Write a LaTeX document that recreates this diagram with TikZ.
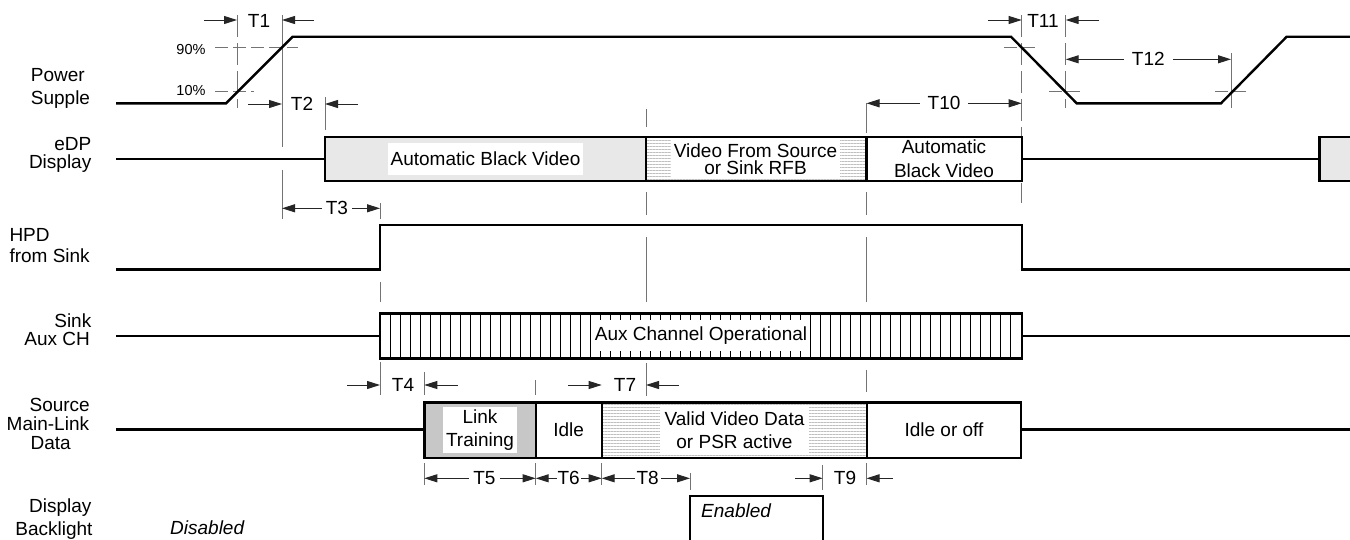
\documentclass[tikz,border=0pt]{standalone}
\usepackage{fontspec}
\setmainfont{Liberation Sans}
\usetikzlibrary{arrows.meta,patterns.meta}
\begin{document}
\begin{tikzpicture}[x=1pt,y=-1pt,
  sig/.style={line width=2.4pt, line join=miter, draw=black},
  guide/.style={line width=1pt, draw=black!55},
  gdash/.style={guide, dash pattern=on 22pt off 6pt},
  hdash/.style={guide, dash pattern=on 13pt off 5pt},
  tip/.tip={Triangle[length=13pt,width=8pt]},
  dim/.style={line width=1pt, draw=black!85, -tip},
  dimb/.style={line width=1pt, draw=black!85, tip-tip},
  lbl/.style={font=\fontsize{19}{20}\selectfont, inner sep=0pt},
  tlab/.style={font=\fontsize{19}{20}\selectfont, inner sep=4pt, fill=white},
  pct/.style={font=\fontsize{14.5}{16}\selectfont, inner sep=0pt, anchor=east},
  boxtxt/.style={align=center, fill=white, inner xsep=3pt, inner ysep=2pt},
  stip/.style={fill=black!9},
  stipdark/.style={fill=black!22},
  hlines/.style={pattern={Lines[angle=0,distance=3pt,line width=0.9pt]}, pattern color=black!25},
]
\useasboundingbox (0,0) rectangle (1350,539);

% ---------------- left labels ----------------
\node[lbl, anchor=base west] (lp1) at (30.7,81.7) {Power};
\node[lbl, anchor=base west] (lp2) at (30.7,104.3) {Supple};
\node[lbl, anchor=base east] (le1) at (91.5,150) {eDP};
\node[lbl, anchor=base east] (le2) at (91.5,168.3) {Display};
\node[lbl, anchor=base west] (lh1) at (9.3,241.7) {HPD};
\node[lbl, anchor=base west] (lh2) at (9.3,262.7) {from Sink};
\node[lbl, anchor=base east] (la1) at (91.5,327.3) {Sink};
\node[lbl, anchor=base east] (la2) at (90,345.7) {Aux CH};
\node[lbl, anchor=base east] (ls1) at (90,411.7) {Source};
\node[lbl, anchor=base east] (ls2) at (89.3,430.7) {Main-Link};
\node[lbl, anchor=base east] (ls3) at (71,449.3) {Data};
\node[lbl, anchor=base east] (lb1) at (91.7,512.3) {Display};
\node[lbl, anchor=base east] (lb2) at (92.7,535) {Backlight};

% ---------------- guide lines ----------------
\draw[gdash] (237,15) -- (237,108);
\draw[guide] (282,15) -- (282,147);
\draw[guide] (282,170) -- (282,219);
\draw[guide] (325,97) -- (325,130);
\draw[guide] (380,203) -- (380,219);
\draw[guide] (380,282) -- (380,302);
\draw[guide] (380,362) -- (380,395);
\draw[guide] (424.3,372) -- (424.3,395);
\draw[guide] (424.3,463) -- (424.3,485);
\draw[guide] (535.7,380) -- (535.7,395);
\draw[guide] (535.7,463) -- (535.7,485);
\draw[guide] (601.7,463) -- (601.7,485);
\foreach \a/\b in {109/127,192/215,237/302,363/396}
  \draw[guide] (646,\a) -- (646,\b);
\draw[guide] (690,473) -- (690,490);
\draw[guide] (822.7,465) -- (822.7,490);
\foreach \a/\b in {103/133,192/215,237/302,370/392,463/485}
  \draw[guide] (866.5,\a) -- (866.5,\b);
\draw[gdash] (1021.7,15) -- (1021.7,203);
\draw[gdash] (1065.7,15) -- (1065.7,108);
\draw[guide] (1231,53) -- (1231,108);

% 10% / 90% marks
\node[pct] (p90) at (205.7,50) {90\%};
\node[pct] (p10) at (205.7,91) {10\%};
\draw[hdash] (215,47.7) -- (298,47.7);
\draw[hdash] (215,91) -- (254,91);
\draw[hdash] (1004,47.7) -- (1038,47.7);
\draw[hdash] (1049,91) -- (1082,91);
\draw[hdash] (1215,91) -- (1248,91);

% ---------------- Power supply ----------------
\draw[sig] (116,103.3) -- (226,103.3) -- (292.7,36.7) -- (1011,36.7)
  -- (1076.7,103.3) -- (1221,103.3) -- (1286.7,36.7) -- (1355,36.7);

% ---------------- eDP display ----------------
\draw[sig] (116,159) -- (325,159);
\fill[stip] (325,136.7) rectangle (646,181);
\fill[hlines] (646,136.7) rectangle (866.5,181);
\node[boxtxt, font=\fontsize{19}{20}\selectfont, minimum height=32pt] (v1) at (485.5,159) {Automatic Black Video};
\node[boxtxt, font=\fontsize{19}{17.5}\selectfont, minimum height=40pt] (v2) at (755.5,159) {Video From Source\\or Sink RFB};
\node[lbl, align=center, font=\fontsize{19}{24}\selectfont] (v3) at (944,158.5) {Automatic\\Black Video};
\draw[sig] (325,136.7) rectangle (1022,181);
\draw[sig] (646,136.7) -- (646,181);
\draw[sig] (866.5,136.7) -- (866.5,181);
\draw[sig] (1022,159) -- (1319.3,159);
\fill[stip] (1319.3,136.7) rectangle (1356,181);
\draw[sig] (1356,136.7) -- (1319.3,136.7) -- (1319.3,181) -- (1356,181);

% ---------------- HPD ----------------
\draw[sig] (116,269.3) -- (380,269.3) -- (380,225) -- (1022,225) -- (1022,269.3) -- (1355,269.3);

% ---------------- Aux channel ----------------
\draw[sig] (116,335.7) -- (380,335.7);
\foreach \i in {1,...,63}
  \draw[line width=1pt] (380+10*\i,313.3) -- (380+10*\i,358.3);
\node[boxtxt, font=\fontsize{19}{20}\selectfont, inner xsep=1pt, minimum height=31pt] (aux) at (701,335.7) {Aux Channel Operational};
\draw[sig] (380,313.3) rectangle (1022,358.3);
\draw[sig] (1022,335.7) -- (1355,335.7);

% ---------------- Source main link ----------------
\draw[sig] (116,429.3) -- (424.3,429.3);
\fill[stipdark] (424.3,402.3) rectangle (535.7,457.7);
\fill[hlines] (601.7,402.3) rectangle (867,457.7);
\node[boxtxt, font=\fontsize{19}{22.7}\selectfont, minimum height=46pt] (m1) at (480,430) {Link\\Training};
\node[lbl] (m2) at (568.7,430) {Idle};
\node[boxtxt, font=\fontsize{19}{22.7}\selectfont, inner xsep=4.5pt, minimum height=46pt] (m3) at (734.5,430) {Valid Video Data\\or PSR active};
\node[lbl] (m4) at (944,430) {Idle or off};
\draw[sig] (424.3,402.3) rectangle (1021,457.7);
\draw[sig] (535.7,402.3) -- (535.7,457.7);
\draw[sig] (601.7,402.3) -- (601.7,457.7);
\draw[sig] (867,402.3) -- (867,457.7);
\draw[sig] (1021,429.3) -- (1355,429.3);

% ---------------- Backlight ----------------
\node[lbl, anchor=base west, font=\fontsize{19}{20}\selectfont\itshape] (dis) at (170,534.3) {Disabled};
\draw[sig] (690,545) -- (690,496) -- (822.7,496) -- (822.7,545);
\node[lbl, anchor=base west, font=\fontsize{19}{20}\selectfont\itshape] (en) at (701,517.7) {Enabled};

% ---------------- timing arrows ----------------
% T1
\draw[dim] (204,20) -- (237,20);
\node[lbl] (t1) at (259,20.5) {T1};
\draw[dim] (314,20) -- (282,20);
% T2
\draw[dim] (248,104) -- (282,104);
\node[lbl] (t2) at (302,104) {T2};
\draw[dim] (358,104) -- (325,104);
% T3
\draw[dimb] (282,208.3) -- (380,208.3) node[tlab, pos=0.56] (t3) {T3};
% T4
\draw[dim] (347,385) -- (380,385);
\node[lbl] (t4) at (403,385) {T4};
\draw[dim] (458,385) -- (424.3,385);
% T7
\draw[dim] (568,385) -- (601.7,385);
\node[lbl] (t7) at (625,385) {T7};
\draw[dim] (679,385) -- (646,385);
% T5, T6, T8
\draw[dimb] (424.3,478.3) -- (535.7,478.3) node[tlab, pos=0.54] (t5) {T5};
\draw[dimb] (535.7,478.3) -- (601.7,478.3) node[tlab, inner xsep=1pt, midway] (t6) {T6};
\draw[dimb] (601.7,478.3) -- (690,478.3) node[tlab, inner xsep=2pt, pos=0.52] (t8) {T8};
% T9
\draw[dim] (795,478.3) -- (822.7,478.3);
\node[lbl] (t9) at (845,478.3) {T9};
\draw[dim] (892.7,478.3) -- (866.5,478.3);
% T10
\draw[dimb] (866.5,103.3) -- (1021.7,103.3) node[tlab, inner xsep=8pt, midway] (t10) {T10};
% T11
\draw[dim] (988,20) -- (1021.7,20);
\node[lbl] (t11) at (1043,20.5) {T11};
\draw[dim] (1099,20) -- (1065.7,20);
% T12
\draw[dimb] (1065.7,59.3) -- (1231,59.3) node[tlab, inner xsep=8pt, pos=0.5] (t12) {T12};
\end{tikzpicture}
\end{document}
